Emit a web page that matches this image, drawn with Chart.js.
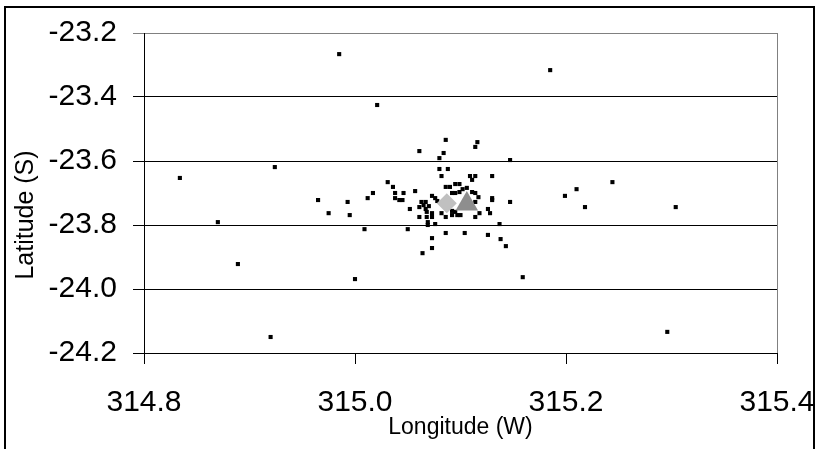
<!DOCTYPE html>
<html>
<head>
<meta charset="utf-8">
<script src="https://cdn.jsdelivr.net/npm/chart.js@4.4.1/dist/chart.umd.min.js"></script>
<style>
  html, body { margin: 0; padding: 0; background: #ffffff; }
  #wrap { width: 820px; height: 449px; }
</style>
</head>
<body>
<div id="wrap"><canvas id="c" width="820" height="449"></canvas></div>
<script>
// ---- data ----
const eventLon = [314.834,314.870,314.889,314.920,314.924,314.985,315.021,315.000,314.965,314.975,314.993,314.995,315.009,315.012,315.017,315.185,315.244,315.210,315.199,315.218,315.304,315.296,315.159,315.147,315.147,
315.031,315.036,315.038,315.038,315.042,315.045,315.046,315.050,315.052,315.057,315.061,315.061,315.063,315.067,315.070,315.069,315.069,315.076,315.064,315.073,315.073,315.073,315.073,315.073,315.080,315.084,315.086,315.080,315.088,315.082,315.082,315.086,315.086,315.086,315.090,315.095,315.099,315.092,315.097,315.100,315.104,315.109,315.114,315.111,315.116,315.114,315.130,315.130,315.130,315.126,315.128,315.118,315.114,315.126,315.137,315.138,315.143,
315.092,315.095,315.099,315.102,315.106,315.111,315.114,315.117,315.114,315.065,315.076,315.078,315.092,315.095,315.068,315.068,315.061,315.067];
const eventLat = [-23.653,-23.791,-23.922,-24.150,-23.619,-23.266,-23.425,-23.969,-23.722,-23.763,-23.728,-23.769,-23.813,-23.716,-23.700,-23.316,-23.666,-23.688,-23.709,-23.744,-23.744,-24.134,-23.963,-23.597,-23.728,
-23.666,-23.681,-23.700,-23.716,-23.722,-23.722,-23.700,-23.813,-23.750,-23.694,-23.569,-23.775,-23.728,-23.728,-23.741,-23.791,-23.800,-23.797,-23.888,-23.872,-23.841,-23.763,-23.775,-23.709,-23.591,-23.575,-23.534,-23.625,-23.625,-23.647,-23.763,-23.775,-23.825,-23.681,-23.681,-23.672,-23.672,-23.769,-23.769,-23.769,-23.825,-23.647,-23.647,-23.659,-23.541,-23.556,-23.647,-23.716,-23.722,-23.750,-23.763,-23.763,-23.775,-23.831,-23.797,-23.844,-23.866,
-23.700,-23.700,-23.697,-23.688,-23.684,-23.697,-23.700,-23.713,-23.728,-23.738,-23.716,-23.725,-23.756,-23.759,-23.759,-23.775,-23.744,-23.750];
const diamondLon = [315.087];
const diamondLat = [-23.732];
const triangleLon = [315.106];
const triangleLat = [-23.734];
const xTickValues = [314.8, 315.0, 315.2, 315.4];
const yTickValues = [-23.2, -23.4, -23.6, -23.8, -24.0, -24.2];
const xTitle = 'Longitude (W)';
const yTitle = 'Latitude (S)';

const FONT = '"Liberation Sans", Arial, sans-serif';
const toPts = (xs, ys) => xs.map((x, i) => ({ x: x, y: ys[i] }));
const near = (a, b) => Math.abs(a - b) < 1e-6;

const framePlugin = {
  id: 'frame',
  beforeDraw(chart) {
    const ctx = chart.ctx;
    ctx.save();
    ctx.fillStyle = '#ffffff';
    ctx.fillRect(0, 0, chart.width, chart.height);
    ctx.strokeStyle = '#000000';
    ctx.lineWidth = 2;
    ctx.strokeRect(5, 7, 809, 460);
    ctx.restore();
  },
  afterDraw(chart) {
    const ctx = chart.ctx;
    ctx.save();
    ctx.fillStyle = '#000000';
    ctx.font = '25px ' + FONT;
    ctx.textAlign = 'center';
    ctx.textBaseline = 'alphabetic';
    ctx.translate(33, 215);
    ctx.rotate(-Math.PI / 2);
    ctx.fillText(yTitle, 0, 0);
    ctx.restore();
  }
};

new Chart(document.getElementById('c'), {
  type: 'scatter',
  data: {
    datasets: [
      { label: 'triangle', data: toPts(triangleLon, triangleLat), order: 0,
        pointStyle: 'triangle', pointRadius: 13, backgroundColor: '#8e8e8e', borderWidth: 0 },
      { label: 'diamond', data: toPts(diamondLon, diamondLat), order: 1,
        pointStyle: 'rectRot', pointRadius: 10, backgroundColor: '#c0c0c0', borderWidth: 0 },
      { label: 'events', data: toPts(eventLon, eventLat), order: 2,
        pointStyle: 'rect', pointRadius: 2.9, backgroundColor: '#000000', borderWidth: 0 }
    ]
  },
  options: {
    responsive: false,
    animation: false,
    events: [],
    layout: { padding: { left: 0, top: 33, right: 43, bottom: 0 } },
    plugins: { legend: { display: false }, tooltip: { enabled: false }, title: { display: false } },
    scales: {
      x: {
        type: 'linear', min: 314.8, max: 315.4,
        afterBuildTicks: s => { s.ticks = xTickValues.map(v => ({ value: v })); },
        afterFit: s => { s.height = 96; s.paddingLeft = 0; s.paddingRight = 0; },
        ticks: { font: { family: FONT, size: 30 }, color: '#000000', padding: 21,
                 maxRotation: 0, autoSkip: false,
                 callback: v => Number(v).toFixed(1) },
        grid: { drawOnChartArea: true, drawTicks: true, tickLength: 11,
                color: c => (c.tick && near(c.tick.value, 315.4)) ? '#808080' : 'rgba(0,0,0,0)',
                tickColor: '#000000', lineWidth: 1 },
        border: { display: true, color: '#000000', width: 1 },
        title: { display: true, text: xTitle, color: '#000000',
                 font: { family: FONT, size: 23 }, padding: { top: 0, bottom: 8 } }
      },
      y: {
        type: 'linear', min: -24.2, max: -23.2,
        afterBuildTicks: s => { s.ticks = yTickValues.map(v => ({ value: v })); },
        afterFit: s => { s.width = 144; s.paddingTop = 0; s.paddingBottom = 0; },
        ticks: { font: { family: FONT, size: 30 }, color: '#000000', padding: 16,
                 autoSkip: false, callback: v => Number(v).toFixed(1) },
        grid: { drawOnChartArea: true, drawTicks: true, tickLength: 11,
                color: c => (c.tick && near(c.tick.value, -23.2)) ? '#808080' : '#000000',
                tickColor: c => (c.tick && near(c.tick.value, -23.2)) ? '#808080' : '#000000',
                lineWidth: 1 },
        border: { display: true, color: '#000000', width: 1 }
      }
    }
  },
  plugins: [framePlugin]
});
</script>
</body>
</html>
